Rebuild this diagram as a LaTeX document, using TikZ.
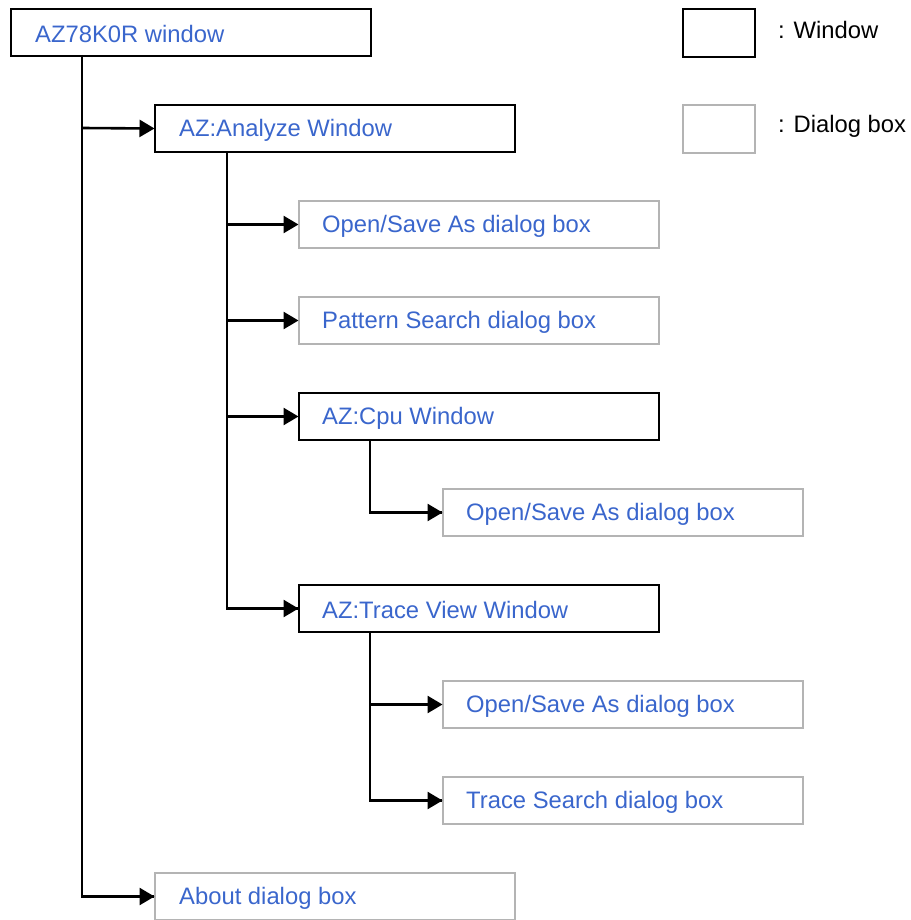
\documentclass[tikz,border=0pt]{standalone}
\usepackage{fontspec}
\setmainfont{Liberation Sans}
\usetikzlibrary{arrows.meta}
\definecolor{txtblue}{HTML}{3A66CC}
\definecolor{dlggray}{HTML}{B4B4B4}
\tikzset{
  win/.style={draw=black, line width=2pt, minimum width=360pt, minimum height=47pt, inner sep=0pt, text=txtblue, anchor=north west},
  dlg/.style={win, draw=dlggray},
  lbl/.style={anchor=west, inner sep=0pt, font=\fontsize{23.8}{28}\selectfont},
  conn/.style={line width=2.6pt},
  arr/.style={conn, -{Triangle[length=15pt,width=17pt]}, shorten >=-0.5pt},
}
\begin{document}
\begin{tikzpicture}[x=1pt,y=-1pt]
\useasboundingbox (0,0) rectangle (910,920);
% boxes
\node[win] (root) at (10,8) {};
\node[lbl, text=txtblue] at (35,34) {AZ78K0R window};
\node[win] (ana) at (154,104) {};
\node[lbl, text=txtblue] at (179,130) {AZ:Analyze Window};
\node[dlg] (os1) at (298,200) {};
\node[lbl, text=txtblue] at (322,226) {Open/Save As dialog box};
\node[dlg] (ps) at (298,296) {};
\node[lbl, text=txtblue] at (322,322) {Pattern Search dialog box};
\node[win] (cpu) at (298,392) {};
\node[lbl, text=txtblue] at (322,418) {AZ:Cpu Window};
\node[dlg] (os2) at (442,488) {};
\node[lbl, text=txtblue] at (466,514) {Open/Save As dialog box};
\node[win] (tv) at (298,584) {};
\node[lbl, text=txtblue] at (322,610) {AZ:Trace View Window};
\node[dlg] (os3) at (442,680) {};
\node[lbl, text=txtblue] at (466,706) {Open/Save As dialog box};
\node[dlg] (ts) at (442,776) {};
\node[lbl, text=txtblue] at (466,802) {Trace Search dialog box};
\node[dlg] (ab) at (154,872) {};
\node[lbl, text=txtblue] at (179,898) {About dialog box};
% legend
\node[win, minimum width=72pt, minimum height=48pt] (lw) at (682,8) {};
\node[lbl] at (778,30) {: Window};
\node[dlg, minimum width=72pt, minimum height=48pt] (ld) at (682,104) {};
\node[lbl] at (778,126) {: Dialog box};
% connectors
\coordinate (r1) at (82,55);
\draw[conn] (r1) |- (ab.west);
\draw[arr] (82,128) -- (ana.west);
\draw[arr] (r1 |- ab.west) -- (ab.west);
\coordinate (a1) at (227,152);
\draw[conn] (a1) |- (tv.west);
\draw[arr] (a1 |- os1.west) -- (os1.west);
\draw[arr] (a1 |- ps.west) -- (ps.west);
\draw[arr] (a1 |- cpu.west) -- (cpu.west);
\draw[arr] (a1 |- tv.west) -- (tv.west);
\coordinate (c1) at (370,439);
\draw[conn] (c1) |- (os2.west);
\draw[arr] (c1 |- os2.west) -- (os2.west);
\coordinate (t1) at (370,632);
\draw[conn] (t1) |- (ts.west);
\draw[arr] (t1 |- os3.west) -- (os3.west);
\draw[arr] (t1 |- ts.west) -- (ts.west);
\end{tikzpicture}
\end{document}
